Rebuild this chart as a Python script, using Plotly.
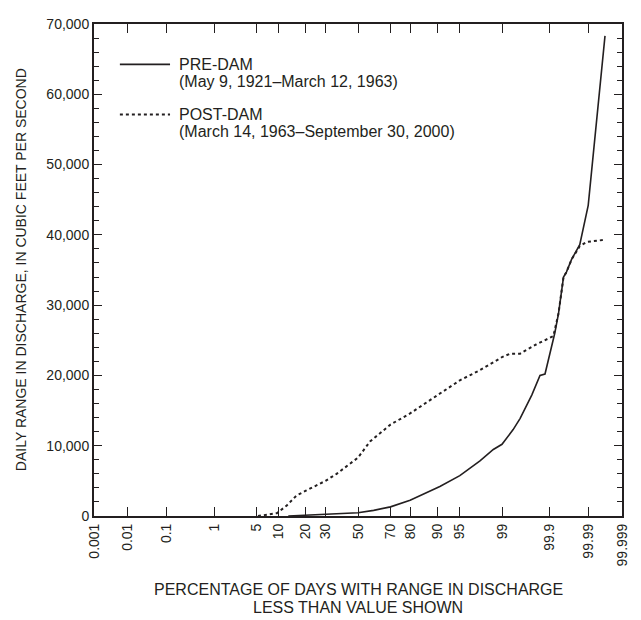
from statistics import NormalDist

import plotly.graph_objects as go

# percentage of days with range in discharge less than value shown
pre_pct = [13, 20, 30, 40, 50, 60, 70, 80, 86, 90.7, 95, 97.56, 98.56, 99, 99.39, 99.56, 99.75,
           99.836, 99.874, 99.903, 99.926, 99.94, 99.955, 99.962, 99.972, 99.983, 99.990, 99.9967]
pre_cfs = [0, 100, 240, 350, 470, 800, 1300, 2240, 3180, 4200, 5740, 7840, 9470, 10200, 12300,
           13900, 17200, 20000, 20200, 23200, 26000, 28800, 34000, 34700, 36500, 38600, 44200, 68300]

post_pct = [5.3, 9.5, 12.5, 16, 20, 30, 36.5, 47, 50, 57.7, 70, 80, 90, 95, 97.5, 99, 99.3, 99.56,
            99.8, 99.92, 99.94, 99.955, 99.962, 99.972, 99.983, 99.989, 99.9967]
post_cfs = [0, 400, 1500, 2900, 3600, 5000, 6000, 7700, 8300, 10600, 13000, 14600, 17200, 19300,
            20700, 22600, 23100, 23100, 24400, 25600, 28800, 34000, 34700, 36500, 38400, 39000, 39300]

tick_pct = [0.001, 0.01, 0.1, 1, 5, 10, 20, 30, 50, 70, 80, 90, 95, 99, 99.9, 99.99, 99.999]
tick_text = ["0.001", "0.01", "0.1", "1", "5", "10", "20", "30", "50", "70", "80", "90", "95",
             "99", "99.9", "99.99", "99.999"]

nd = NormalDist()


def prob(p):
    # normal probability scale
    return [nd.inv_cdf(v / 100) for v in p]


ink = "#231f20"
font = "Liberation Sans, Arial, sans-serif"
zmax = nd.inv_cdf(0.99999)

fig = go.Figure()
fig.add_trace(go.Scatter(x=prob(pre_pct), y=pre_cfs, mode="lines", name="PRE-DAM",
                         line=dict(color=ink, width=1.6)))
fig.add_trace(go.Scatter(x=prob(post_pct), y=post_cfs, mode="lines", name="POST-DAM",
                         line=dict(color=ink, width=2, dash="dot")))

# legend drawn by hand so the key lines sit next to the first text line
legend = [("PRE-DAM", "(May 9, 1921\u2013March 12, 1963)", "solid", 1.6, 0.918),
          ("POST-DAM", "(March 14, 1963\u2013September 30, 2000)", "dot", 2, 0.816)]
for name, dates, dash, w, ly in legend:
    fig.add_shape(type="line", xref="paper", yref="paper", x0=0.049, x1=0.144, y0=ly, y1=ly,
                  line=dict(color=ink, width=w, dash=dash))
    fig.add_annotation(xref="paper", yref="paper", x=0.157, y=ly, text=name, showarrow=False,
                       xanchor="left", yanchor="middle", font=dict(size=16))
    fig.add_annotation(xref="paper", yref="paper", x=0.157, y=ly - 0.035, text=dates,
                       showarrow=False, xanchor="left", yanchor="middle", font=dict(size=16))

# axis titles
for txt, ty in [("PERCENTAGE OF DAYS WITH RANGE IN DISCHARGE", -0.15),
                ("LESS THAN VALUE SHOWN", -0.186)]:
    fig.add_annotation(xref="paper", yref="paper", x=0.5, y=ty, text=txt, showarrow=False,
                       xanchor="center", yanchor="middle", font=dict(size=16))
fig.add_annotation(xref="paper", yref="paper", x=-0.138, y=0.5, textangle=-90,
                   text="DAILY RANGE IN DISCHARGE, IN CUBIC FEET PER SECOND",
                   showarrow=False, xanchor="center", yanchor="middle", font=dict(size=14))

fig.update_layout(
    width=633, height=612,
    margin=dict(l=86, r=19, t=8, b=104),
    paper_bgcolor="white", plot_bgcolor="white",
    font=dict(family=font, size=14, color=ink),
    showlegend=False,
    xaxis=dict(
        range=[-zmax, zmax],
        tickvals=prob(tick_pct), ticktext=tick_text, tickangle=-90,
        ticks="inside", ticklen=9, tickwidth=1.2, tickcolor=ink,
        showline=True, linecolor=ink, linewidth=2, mirror="allticks",
        showgrid=False, zeroline=False,
    ),
    yaxis=dict(
        range=[0, 70000], dtick=10000, tickformat=",d",
        ticks="inside", ticklen=8, tickwidth=1.2, tickcolor=ink,
        minor=dict(dtick=2000, ticks="inside", ticklen=5, tickwidth=1.2, tickcolor=ink,
                   showgrid=False),
        showline=True, linecolor=ink, linewidth=2, mirror="allticks",
        showgrid=False, zeroline=False,
    ),
)

fig.write_html("out.html")
